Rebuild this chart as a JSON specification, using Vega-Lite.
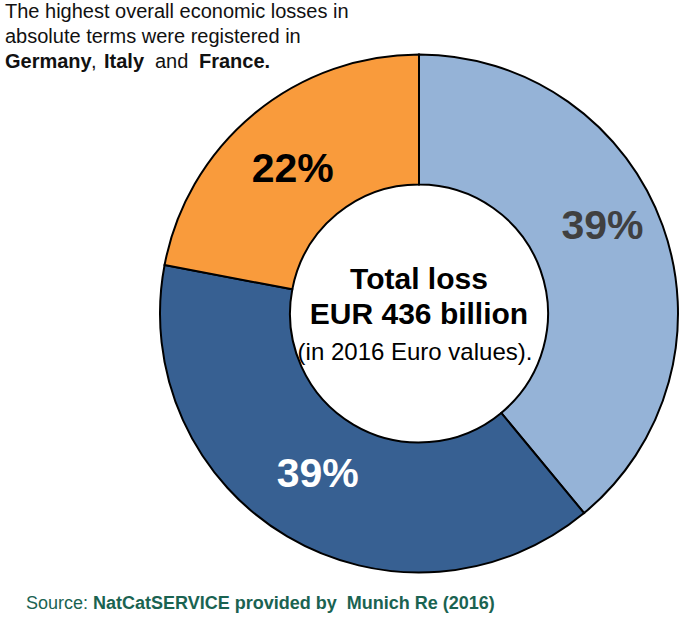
{
  "$schema": "https://vega.github.io/schema/vega-lite/v6.json",
  "width": 540,
  "height": 540,
  "autosize": "none",
  "padding": {"left": 149, "top": 43.5, "right": 10, "bottom": 53.5},
  "background": "white",
  "config": {"view": {"stroke": null}, "font": "Liberation Sans"},
  "data": {
    "values": [
      {"segment": "Share A", "ord": 1, "share": 39, "label": "39%"},
      {"segment": "Share B", "ord": 2, "share": 39, "label": "39%"},
      {"segment": "Share C", "ord": 3, "share": 22, "label": "22%"}
    ]
  },
  "layer": [
    {
      "mark": {"type": "arc", "radius": 259, "radius2": 129, "stroke": "#000000", "strokeWidth": 2},
      "encoding": {
        "theta": {"field": "share", "type": "quantitative", "stack": true},
        "order": {"field": "ord", "type": "quantitative"},
        "color": {
          "field": "segment",
          "type": "nominal",
          "scale": {"domain": ["Share A", "Share B", "Share C"], "range": ["#95B3D7", "#376092", "#F99B3C"]},
          "legend": null
        }
      }
    },
    {
      "mark": {"type": "text", "radius": 195, "fontSize": 41, "fontWeight": "bold", "align": "center", "baseline": "middle", "dy": -20, "color": "#404040"},
      "encoding": {
        "theta": {"field": "share", "type": "quantitative", "stack": true},
        "order": {"field": "ord", "type": "quantitative"},
        "text": {"condition": {"test": "datum.segment === 'Share A'", "field": "label"}, "value": ""}
      }
    },
    {
      "mark": {"type": "text", "radius": 195, "fontSize": 41, "fontWeight": "bold", "align": "center", "baseline": "middle", "dy": -6, "dx": -2, "color": "#FFFFFF"},
      "encoding": {
        "theta": {"field": "share", "type": "quantitative", "stack": true},
        "order": {"field": "ord", "type": "quantitative"},
        "text": {"condition": {"test": "datum.segment === 'Share B'", "field": "label"}, "value": ""}
      }
    },
    {
      "mark": {"type": "text", "radius": 195, "fontSize": 41, "fontWeight": "bold", "align": "center", "baseline": "middle", "dy": 7, "dx": -2, "color": "#000000"},
      "encoding": {
        "theta": {"field": "share", "type": "quantitative", "stack": true},
        "order": {"field": "ord", "type": "quantitative"},
        "text": {"condition": {"test": "datum.segment === 'Share C'", "field": "label"}, "value": ""}
      }
    },
    {
      "data": {"values": [{"t": "Total loss"}]},
      "mark": {"type": "text", "fontSize": 30, "fontWeight": "bold", "align": "center", "baseline": "alphabetic", "dy": -25, "color": "#000000"},
      "encoding": {"text": {"field": "t", "type": "nominal"}}
    },
    {
      "data": {"values": [{"t": "EUR 436 billion"}]},
      "mark": {"type": "text", "fontSize": 30, "fontWeight": "bold", "align": "center", "baseline": "alphabetic", "dy": 10, "color": "#000000"},
      "encoding": {"text": {"field": "t", "type": "nominal"}}
    },
    {
      "data": {"values": [{"t": "(in 2016 Euro values)."}]},
      "mark": {"type": "text", "fontSize": 24, "align": "center", "baseline": "alphabetic", "dy": 46, "dx": -4, "color": "#000000"},
      "encoding": {"text": {"field": "t", "type": "nominal"}}
    },
    {
      "data": {"values": [{"t": "The highest overall economic losses in\nabsolute terms were registered in"}]},
      "mark": {"type": "text", "fontSize": 20, "align": "left", "baseline": "alphabetic", "lineBreak": "\n", "lineHeight": 25, "x": -144, "y": -25.5, "color": "#111111"},
      "encoding": {"text": {"field": "t", "type": "nominal"}}
    },
    {
      "data": {"values": [{"t": "Germany"}]},
      "mark": {"type": "text", "fontSize": 20, "fontWeight": "bold", "align": "left", "baseline": "alphabetic", "x": -144, "y": 24.5, "color": "#111111"},
      "encoding": {"text": {"field": "t", "type": "nominal"}}
    },
    {
      "data": {"values": [{"t": ","}]},
      "mark": {"type": "text", "fontSize": 20, "align": "left", "baseline": "alphabetic", "x": -58, "y": 24.5, "color": "#111111"},
      "encoding": {"text": {"field": "t", "type": "nominal"}}
    },
    {
      "data": {"values": [{"t": "Italy"}]},
      "mark": {"type": "text", "fontSize": 20, "fontWeight": "bold", "align": "left", "baseline": "alphabetic", "x": -45, "y": 24.5, "color": "#111111"},
      "encoding": {"text": {"field": "t", "type": "nominal"}}
    },
    {
      "data": {"values": [{"t": "and"}]},
      "mark": {"type": "text", "fontSize": 20, "align": "left", "baseline": "alphabetic", "x": 6, "y": 24.5, "color": "#111111"},
      "encoding": {"text": {"field": "t", "type": "nominal"}}
    },
    {
      "data": {"values": [{"t": "France."}]},
      "mark": {"type": "text", "fontSize": 20, "fontWeight": "bold", "align": "left", "baseline": "alphabetic", "x": 50, "y": 24.5, "color": "#111111"},
      "encoding": {"text": {"field": "t", "type": "nominal"}}
    },
    {
      "data": {"values": [{"t": "Source:"}]},
      "mark": {"type": "text", "fontSize": 18, "align": "left", "baseline": "alphabetic", "x": -123, "y": 565.5, "color": "#1A6351"},
      "encoding": {"text": {"field": "t", "type": "nominal"}}
    },
    {
      "data": {"values": [{"t": "NatCatSERVICE provided by \u00a0Munich Re (2016)"}]},
      "mark": {"type": "text", "fontSize": 18, "fontWeight": "bold", "align": "left", "baseline": "alphabetic", "x": -56, "y": 565.5, "color": "#1A6351"},
      "encoding": {"text": {"field": "t", "type": "nominal"}}
    }
  ]
}
